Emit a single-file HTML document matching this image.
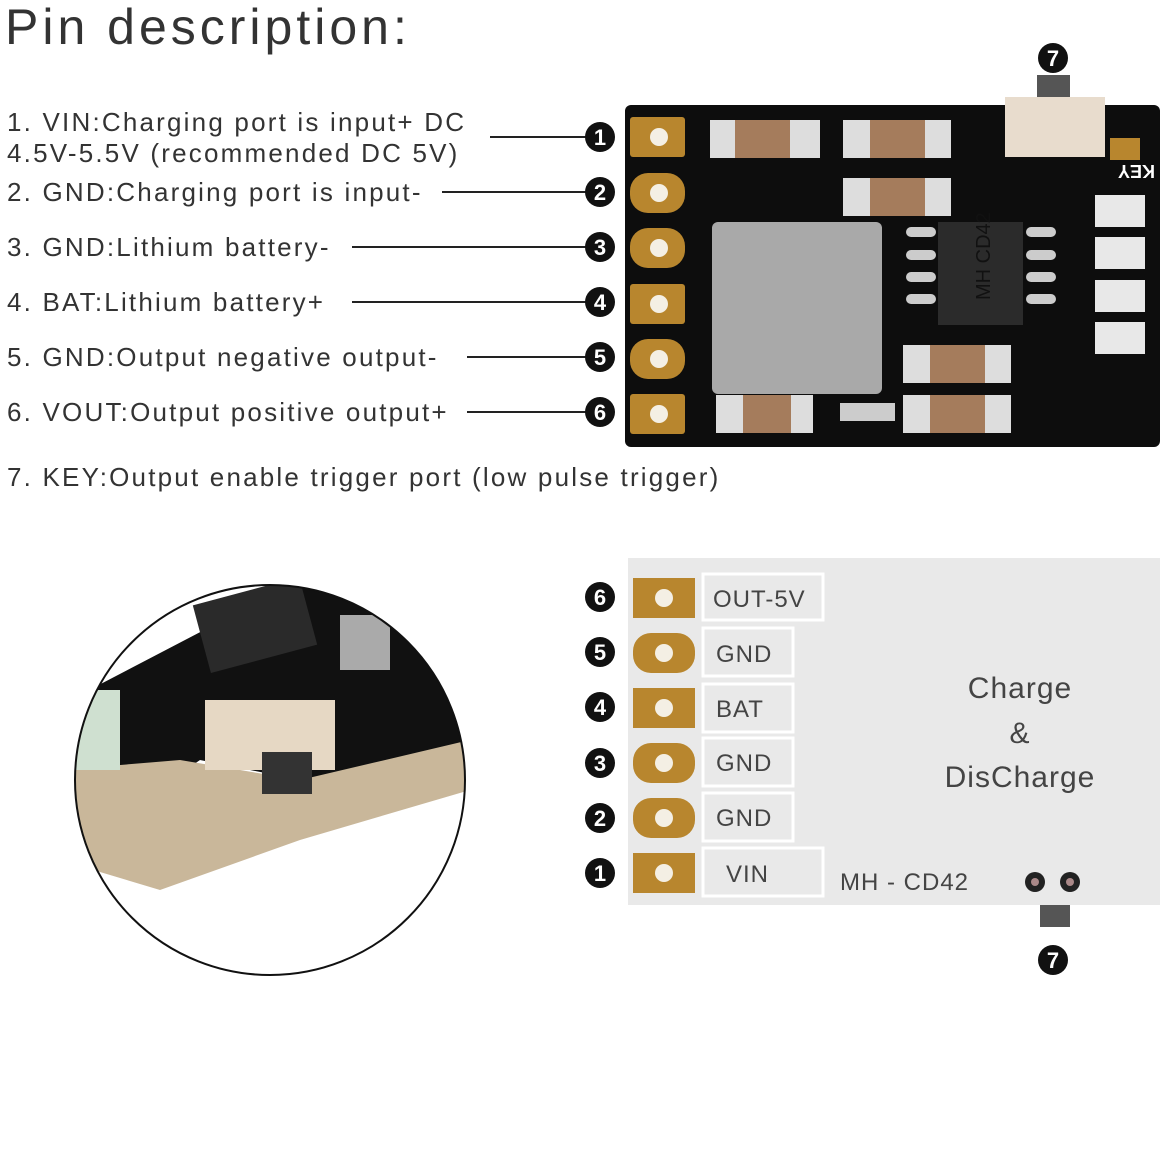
<!DOCTYPE html>
<html><head><meta charset="utf-8"><style>
html,body{margin:0;padding:0;background:#fff;width:1164px;height:1164px;overflow:hidden}
svg{display:block}
text{font-family:"Liberation Sans",sans-serif}
</style></head><body>
<svg width="1164" height="1164" viewBox="0 0 1164 1164" xmlns="http://www.w3.org/2000/svg">
<text x="5" y="44" font-size="50" fill="#333" letter-spacing="4">Pin description:</text>
<g font-size="26" fill="#333" letter-spacing="2.2">
<text x="7" y="131">1. VIN:Charging port is input+ DC</text>
<text x="7" y="162">4.5V-5.5V (recommended DC 5V)</text>
<text x="7" y="201">2. GND:Charging port is input-</text>
<text x="7" y="256">3. GND:Lithium battery-</text>
<text x="7" y="311">4. BAT:Lithium battery+</text>
<text x="7" y="366">5. GND:Output negative output-</text>
<text x="7" y="421">6. VOUT:Output positive output+</text>
<text x="7" y="486">7. KEY:Output enable trigger port (low pulse trigger)</text>
</g>
<g stroke="#222" stroke-width="2">
<line x1="490" y1="137" x2="590" y2="137"/>
<line x1="442" y1="192" x2="590" y2="192"/>
<line x1="352" y1="247" x2="590" y2="247"/>
<line x1="352" y1="302" x2="590" y2="302"/>
<line x1="467" y1="357" x2="590" y2="357"/>
<line x1="467" y1="412" x2="590" y2="412"/>
</g>
<!-- Top board -->
<rect x="625" y="105" width="535" height="342" rx="6" fill="#0d0d0d"/>
<g fill="#b8862e">
<rect x="630" y="117" width="55" height="40" rx="3"/>
<rect x="630" y="173" width="55" height="40" rx="18"/>
<rect x="630" y="228" width="55" height="40" rx="18"/>
<rect x="630" y="284" width="55" height="40" rx="3"/>
<rect x="630" y="339" width="55" height="40" rx="18"/>
<rect x="630" y="394" width="55" height="40" rx="3"/>
</g>
<g fill="#f4efe4">
<circle cx="659" cy="137" r="9"/><circle cx="659" cy="193" r="9"/><circle cx="659" cy="248" r="9"/>
<circle cx="659" cy="304" r="9"/><circle cx="659" cy="359" r="9"/><circle cx="659" cy="414" r="9"/>
</g>
<g>
<rect x="710" y="120" width="110" height="38" fill="#ddd"/><rect x="735" y="120" width="55" height="38" fill="#a57c5c"/>
<rect x="843" y="120" width="108" height="38" fill="#ddd"/><rect x="870" y="120" width="55" height="38" fill="#a57c5c"/>
<rect x="843" y="178" width="108" height="38" fill="#ddd"/><rect x="870" y="178" width="55" height="38" fill="#a57c5c"/>
<rect x="712" y="222" width="170" height="172" rx="6" fill="#a9a9a9"/>
<rect x="938" y="222" width="85" height="103" fill="#2b2b2b"/>
<text x="0" y="0" font-size="20" fill="#111" transform="translate(990 300) rotate(-90)">MH CD42</text>
<rect x="903" y="345" width="108" height="38" fill="#ddd"/><rect x="930" y="345" width="55" height="38" fill="#a57c5c"/>
<rect x="903" y="395" width="108" height="38" fill="#ddd"/><rect x="930" y="395" width="55" height="38" fill="#a57c5c"/>
<rect x="716" y="395" width="97" height="38" fill="#ddd"/><rect x="743" y="395" width="48" height="38" fill="#a57c5c"/>
<rect x="840" y="403" width="55" height="18" fill="#ccc"/>
<rect x="1095" y="195" width="50" height="32" fill="#e8e8e8"/>
<rect x="1095" y="237" width="50" height="32" fill="#e8e8e8"/>
<rect x="1095" y="280" width="50" height="32" fill="#e8e8e8"/>
<rect x="1095" y="322" width="50" height="32" fill="#e8e8e8"/>
<rect x="1110" y="138" width="30" height="22" fill="#b8862e"/>
<text x="0" y="0" font-size="18" font-weight="bold" fill="#fff" transform="translate(1155 165) rotate(180)">KEY</text>
</g>
<g fill="#ccc"><rect x="906" y="227" width="30" height="10" rx="5"/><rect x="906" y="250" width="30" height="10" rx="5"/><rect x="906" y="272" width="30" height="10" rx="5"/><rect x="906" y="294" width="30" height="10" rx="5"/>
<rect x="1026" y="227" width="30" height="10" rx="5"/><rect x="1026" y="250" width="30" height="10" rx="5"/><rect x="1026" y="272" width="30" height="10" rx="5"/><rect x="1026" y="294" width="30" height="10" rx="5"/></g>
<rect x="1037" y="75" width="33" height="28" fill="#555"/>
<rect x="1005" y="97" width="100" height="60" fill="#e8dccd"/>
<g font-size="22" font-weight="bold" text-anchor="middle">
<circle cx="1053" cy="58" r="15" fill="#111"/><text x="1053" y="66" fill="#fff">7</text>
<circle cx="600" cy="137" r="15" fill="#111"/><text x="600" y="145" fill="#fff">1</text>
<circle cx="600" cy="192" r="15" fill="#111"/><text x="600" y="200" fill="#fff">2</text>
<circle cx="600" cy="247" r="15" fill="#111"/><text x="600" y="255" fill="#fff">3</text>
<circle cx="600" cy="302" r="15" fill="#111"/><text x="600" y="310" fill="#fff">4</text>
<circle cx="600" cy="357" r="15" fill="#111"/><text x="600" y="365" fill="#fff">5</text>
<circle cx="600" cy="412" r="15" fill="#111"/><text x="600" y="420" fill="#fff">6</text>
<circle cx="600" cy="597" r="15" fill="#111"/><text x="600" y="605" fill="#fff">6</text>
<circle cx="600" cy="652" r="15" fill="#111"/><text x="600" y="660" fill="#fff">5</text>
<circle cx="600" cy="707" r="15" fill="#111"/><text x="600" y="715" fill="#fff">4</text>
<circle cx="600" cy="763" r="15" fill="#111"/><text x="600" y="771" fill="#fff">3</text>
<circle cx="600" cy="818" r="15" fill="#111"/><text x="600" y="826" fill="#fff">2</text>
<circle cx="600" cy="873" r="15" fill="#111"/><text x="600" y="881" fill="#fff">1</text>
<circle cx="1053" cy="960" r="15" fill="#111"/><text x="1053" y="968" fill="#fff">7</text>
</g>
<clipPath id="c"><circle cx="270" cy="780" r="195"/></clipPath>
<g clip-path="url(#c)">
<rect x="70" y="580" width="400" height="400" fill="#fff"/>
<path d="M70 700 L300 580 L470 600 L470 740 L350 790 L200 760 L70 850 Z" fill="#111"/>
<path d="M60 770 L180 760 L300 780 L470 740 L470 790 L300 840 L160 890 L60 860 Z" fill="#c9b79a"/>
<rect x="200" y="590" width="110" height="70" fill="#2a2a2a" transform="rotate(-15 255 625)"/>
<rect x="205" y="700" width="130" height="70" fill="#e6d8c4"/>
<rect x="262" y="752" width="50" height="42" fill="#333"/>
<rect x="340" y="615" width="50" height="55" fill="#aaa"/>
<rect x="60" y="690" width="60" height="80" fill="#cfe0d0"/>
</g>
<circle cx="270" cy="780" r="195" fill="none" stroke="#111" stroke-width="2"/>
<rect x="628" y="558" width="532" height="347" fill="#e9e9e9"/>
<rect x="1040" y="905" width="30" height="22" fill="#555"/>
<g fill="#b8862e">
<rect x="633" y="578" width="62" height="40"/><rect x="633" y="633" width="62" height="40" rx="18"/>
<rect x="633" y="688" width="62" height="40"/><rect x="633" y="743" width="62" height="40" rx="18"/>
<rect x="633" y="798" width="62" height="40" rx="18"/><rect x="633" y="853" width="62" height="40"/>
</g>
<g fill="#f4efe4">
<circle cx="664" cy="598" r="9"/><circle cx="664" cy="653" r="9"/><circle cx="664" cy="708" r="9"/>
<circle cx="664" cy="763" r="9"/><circle cx="664" cy="818" r="9"/><circle cx="664" cy="873" r="9"/>
</g>
<g fill="none" stroke="#fff" stroke-width="3">
<rect x="703" y="574" width="120" height="46"/><rect x="703" y="628" width="90" height="48"/>
<rect x="703" y="684" width="90" height="48"/><rect x="703" y="738" width="90" height="48"/>
<rect x="703" y="793" width="90" height="48"/><rect x="703" y="848" width="120" height="48"/>
</g>
<g font-size="24" fill="#444" letter-spacing="1">
<text x="713" y="607">OUT-5V</text><text x="716" y="662">GND</text><text x="716" y="717">BAT</text>
<text x="716" y="771">GND</text><text x="716" y="826">GND</text><text x="726" y="882">VIN</text>
<text x="840" y="890">MH - CD42</text>
</g>
<g font-size="30" fill="#444" text-anchor="middle" letter-spacing="1">
<text x="1020" y="698">Charge</text><text x="1020" y="743">&amp;</text><text x="1020" y="787">DisCharge</text>
</g>
<circle cx="1035" cy="882" r="10" fill="#222"/><circle cx="1035" cy="882" r="4" fill="#a88"/>
<circle cx="1070" cy="882" r="10" fill="#222"/><circle cx="1070" cy="882" r="4" fill="#a88"/>
</svg>
</body></html>
